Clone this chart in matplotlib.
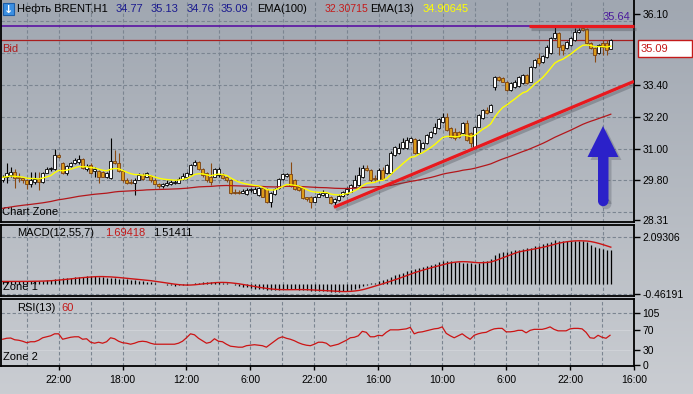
import numpy as np
import pandas as pd
import matplotlib
matplotlib.use('Agg')
import matplotlib.pyplot as plt
from matplotlib.patches import Polygon, Circle, Rectangle
from matplotlib.colors import LinearSegmentedColormap
import matplotlib.patheffects as pe

plt.rcParams['font.family'] = ['Liberation Sans', 'DejaVu Sans']

# ---------------- data (hourly Brent candles) ----------------
opens = [29.82,29.92,30.01,30.13,29.95,29.88,29.82,29.66,29.76,29.85,
         29.76,30.10,30.22,30.22,30.76,30.47,30.07,30.35,30.45,30.51,
         30.60,30.22,30.39,30.17,30.17,30.13,29.92,29.88,30.55,30.45,
         30.16,29.82,29.76,29.72,29.82,30.01,29.95,29.97,29.82,29.66,
         29.60,29.63,29.67,29.72,29.72,29.85,29.92,30.05,30.39,30.51,
         30.22,30.07,29.95,29.95,30.01,30.01,29.92,29.80,29.38,29.38,
         29.34,29.29,29.44,29.34,29.25,29.51,29.47,28.97,29.29,29.51,
         29.85,29.97,30.05,29.80,29.57,29.51,29.17,29.17,29.00,29.19,
         29.25,29.19,29.19,29.00,29.08,29.20,29.30,29.38,29.57,29.63,
         29.94,30.26,30.20,29.90,29.82,30.20,30.07,30.07,30.76,30.83,
         31.01,31.01,31.27,31.36,30.83,31.01,31.20,31.45,31.58,31.77,
         32.02,32.21,31.77,31.64,31.64,31.58,31.96,31.58,31.08,31.83,
         32.15,32.46,32.40,33.34,33.69,33.66,33.53,33.21,33.34,33.37,
         33.47,33.78,33.53,34.09,34.41,34.28,34.47,34.60,35.17,35.35,
         34.91,34.79,34.91,35.10,35.42,35.54,35.51,34.98,34.79,34.60,
         34.98,34.98,34.77]
closes = [29.92,30.07,30.13,29.88,29.88,29.82,29.66,29.80,29.85,29.76,
          30.10,30.22,30.26,30.76,30.70,30.07,30.35,30.45,30.58,30.60,
          30.26,30.35,30.07,30.22,29.92,29.95,30.07,30.55,30.45,30.16,
          29.80,29.72,29.72,29.82,30.01,29.85,30.07,29.80,29.66,29.61,
          29.67,29.72,29.74,29.74,29.87,29.97,30.07,30.39,30.51,30.22,
          30.01,29.82,29.76,30.22,30.22,29.88,29.80,29.32,29.34,29.34,
          29.42,29.44,29.47,29.47,29.51,29.19,28.97,29.32,29.48,29.85,
          30.05,30.05,29.60,29.47,29.44,29.13,29.09,28.97,29.19,29.29,
          29.34,29.32,28.94,29.10,29.22,29.36,29.48,29.63,29.82,30.01,
          30.26,30.20,29.82,29.85,30.20,29.85,30.38,30.83,31.08,31.01,
          31.27,31.33,31.39,30.83,31.33,31.20,31.52,31.64,31.83,32.11,
          32.21,31.71,31.45,31.39,31.45,31.96,31.33,31.20,31.83,32.27,
          32.46,32.33,32.65,33.72,33.59,33.53,33.21,33.47,33.53,33.72,
          33.78,33.47,34.09,34.35,34.22,34.50,34.85,35.17,35.35,34.85,
          34.72,35.04,35.17,35.42,35.48,35.48,34.98,34.79,34.54,34.91,
          34.85,34.72,35.09]
highs = [30.01,30.47,30.30,30.22,30.07,29.95,29.85,30.13,30.13,30.13,
         30.13,30.32,30.32,30.98,30.80,30.51,30.39,30.51,30.64,30.76,
         30.64,30.42,30.45,30.32,30.20,30.17,30.13,31.39,30.95,30.83,
         30.20,29.88,29.85,29.88,30.07,30.07,30.13,30.01,29.88,29.72,
         29.69,29.80,29.80,29.80,29.95,30.10,30.13,30.42,30.58,30.55,
         30.26,30.13,30.47,30.26,30.30,30.07,29.97,29.85,29.47,29.44,
         29.47,29.51,29.51,29.54,29.54,29.54,29.51,29.38,29.53,29.88,
         30.10,30.10,30.51,29.85,29.63,29.57,29.19,29.22,29.22,29.34,
         29.44,29.34,29.22,29.15,29.28,29.42,29.55,29.68,30.01,30.32,
         30.38,30.40,30.24,30.01,30.26,30.32,30.42,30.90,31.12,31.20,
         31.39,31.45,31.45,31.40,31.37,31.24,31.56,31.68,31.96,32.15,
         32.33,32.33,31.80,31.77,31.68,32.02,32.08,31.62,31.87,32.31,
         32.50,32.59,32.69,33.76,33.75,33.70,33.56,33.50,33.59,33.76,
         33.82,33.82,34.13,34.40,34.60,34.54,34.90,35.22,35.63,35.40,
         34.95,35.08,35.22,35.54,35.55,35.60,35.56,35.02,34.83,34.95,
         35.10,35.10,35.13]
lows = [29.76,29.72,29.95,29.51,29.76,29.72,29.47,29.57,29.67,29.44,
        29.72,30.07,30.17,30.20,30.64,30.05,30.01,30.30,30.42,30.42,
        30.22,30.17,30.03,29.95,29.69,29.92,29.88,29.85,30.42,30.13,
        29.76,29.67,29.67,29.25,29.80,29.82,29.92,29.76,29.63,29.51,
        29.51,29.60,29.62,29.67,29.69,29.80,29.85,30.01,30.35,30.20,
        29.95,29.76,29.63,29.92,29.95,29.85,29.76,29.29,29.29,29.28,
        29.32,29.25,29.38,29.32,29.22,29.17,28.94,28.81,29.25,29.48,
        29.82,29.92,29.57,29.44,29.42,29.09,29.04,28.75,28.97,29.17,
        29.22,29.17,28.91,28.88,29.04,29.17,29.27,29.35,29.55,29.60,
        29.90,30.15,29.76,29.76,29.80,29.82,30.03,30.03,30.72,30.80,
        30.98,30.98,31.24,30.80,30.80,30.98,31.17,31.42,31.55,31.74,
        31.98,31.68,31.42,31.33,31.40,31.55,31.30,31.08,31.01,31.80,
        32.11,32.30,32.37,33.21,33.56,33.50,33.18,33.18,33.30,33.34,
        33.44,33.44,33.50,34.05,34.16,34.25,34.44,34.56,35.12,34.54,
        34.54,34.75,34.88,35.06,35.38,35.45,34.95,34.75,34.28,34.56,
        34.54,34.54,34.76]
macd_values = [0.10,0.10,0.10,0.10,0.10,0.11,0.11,0.12,0.12,0.12,
               0.13,0.15,0.17,0.20,0.23,0.24,0.25,0.27,0.29,0.31,
               0.32,0.33,0.34,0.33,0.31,0.29,0.27,0.26,0.25,0.23,
               0.21,0.20,0.18,0.16,0.14,0.12,0.09,0.06,0.03,0.00,
               -0.03,-0.05,-0.07,-0.09,-0.08,-0.07,-0.05,-0.01,0.03,0.05,
               0.06,0.06,0.06,0.07,0.06,0.04,0.01,-0.03,-0.07,-0.10,
               -0.13,-0.16,-0.19,-0.22,-0.24,-0.26,-0.28,-0.29,-0.28,-0.27,
               -0.26,-0.25,-0.25,-0.26,-0.27,-0.29,-0.30,-0.31,-0.32,-0.33,
               -0.34,-0.35,-0.36,-0.37,-0.37,-0.35,-0.32,-0.28,-0.24,-0.19,
               -0.12,-0.04,0.02,0.05,0.10,0.15,0.22,0.30,0.38,0.43,
               0.50,0.57,0.63,0.67,0.70,0.75,0.80,0.84,0.90,0.96,
               1.00,1.03,1.02,0.99,0.97,0.95,0.92,0.91,0.90,0.95,
               1.00,1.03,1.10,1.30,1.36,1.40,1.42,1.47,1.50,1.53,
               1.55,1.58,1.62,1.67,1.71,1.77,1.82,1.88,1.94,1.92,
               1.92,1.92,1.92,1.93,1.93,1.91,1.87,1.75,1.66,1.60,
               1.56,1.52,1.51]
rsi_values = [52,54,54.5,51,50,48,45,47,47,50,
              55,57,59,63,63,52,54,56,57,57,
              52,53,46,44,46,44,47,55,53,48,
              45,44,42,44,47,48,47,44,42,42,
              42,42,42,42,44,48,55,63,61,54,
              49,44,46,53,48,47,42,38,37,36,
              36,39,40,41,40,39,36,42,48,54,
              57,54,52,49,45,42,40,39,42,46,
              46,44,38,40,42,46,50,55,56,59,
              68,66,57,57,60,59,66,71,71,71,
              72,73,76,63,66,67,69,71,73,74,
              77,64,59,55,59,63,57,52,60,63,
              65,66,70,73,74,74,67,67,68,70,
              70,65,70,72,72,72,74,77,72,69,
              69,69,73,74,74,73,66,55,54,60,
              56,54,60]

ema100_start = 28.75          # EMA(100) value at the first visible candle
resistance_level = 35.64      # purple horizontal level
bid_price = 35.09
trend_start = (82.8, 28.79)   # red trend line anchors (candle index, price)
trend_end = (157.8, 33.54)
resist_line = (131.6, 157.8, 35.63)

price_ticks = [36.10, 33.40, 32.20, 31.00, 29.80, 28.31]
price_grid = [28.6, 29.8, 31.0, 32.2, 33.4, 34.6, 35.8]
macd_ticks = [2.09306, -0.46191]
rsi_ticks = [105, 70, 30, 0]
time_idx = [14, 30, 46, 62, 78, 94, 110, 126, 142, 158]
time_labels = ['22:00', '18:00', '12:00', '6:00', '22:00', '16:00', '10:00', '6:00', '22:00', '16:00']
grid_idx = list(range(6, 158, 8))

# ---------------- indicators ----------------
O = np.array(opens); C = np.array(closes); Hh = np.array(highs); Lw = np.array(lows)
N = len(C)
x = np.arange(N)
cs = pd.Series(C)
ema13 = cs.ewm(span=13, adjust=False).mean().values
ema100 = np.empty(N)
a = 2 / 101
prev = ema100_start
for i in range(N):
    prev = prev + a * (C[i] - prev) if i > 0 else prev
    ema100[i] = prev
macd = pd.Series(macd_values)
signal = macd.rolling(7, min_periods=1).mean()

# ---------------- figure ----------------
W, H = 693, 394
fig = plt.figure(figsize=(W / 100, H / 100), dpi=100)

def rect(x0, y0, x1, y1):
    return [x0 / W, 1 - y1 / H, (x1 - x0) / W, (y1 - y0) / H]

bg = fig.add_axes([0, 0, 1, 1], zorder=-10)
cmap = LinearSegmentedColormap.from_list('bg', ['#a0a7b1', '#cacdd2'])
bg.imshow(np.linspace(0, 1, 256).reshape(-1, 1), aspect='auto', cmap=cmap,
          extent=[0, 1, 0, 1], origin='upper')
bg.axis('off')

FS = 7.5
XL = (-0.425, 157.8)
grid_kw = dict(color='#7b8591', lw=0.8, ls=(0, (3, 2)), zorder=1)

def style_axes(a_):
    a_.set_facecolor('none')
    a_.set_xlim(*XL)
    a_.yaxis.tick_right()
    a_.tick_params(axis='y', direction='out', length=4, width=1, labelsize=FS, pad=2, colors='black')
    a_.tick_params(axis='x', bottom=False, labelbottom=False)
    for s in a_.spines.values():
        s.set_color('black'); s.set_linewidth(1.3)
    for g in grid_idx:
        a_.axvline(g, **grid_kw)

# main price panel
ax = fig.add_axes(rect(1, 0, 634, 221.7))
style_axes(ax)
ax.spines['top'].set_visible(False)
ax.set_ylim(28.245, 36.61)
for g in price_grid:
    ax.axhline(g, **grid_kw)
ax.set_yticks(price_ticks)
ax.set_yticklabels(['%.2f' % t for t in price_ticks])

ax.axhline(resistance_level, color='#5a12a3', lw=1.2, zorder=2)
ax.axhline(bid_price, color='#a81e1e', lw=0.9, zorder=2)

up = C >= O
bb = np.minimum(O, C)
bh = np.maximum(np.abs(C - O), 0.02)
ax.vlines(x[up], Lw[up], Hh[up], color='black', lw=0.8, zorder=3)
ax.vlines(x[~up], Lw[~up], Hh[~up], color='#8a4a12', lw=0.8, zorder=3)
ax.bar(x[up], bh[up], bottom=bb[up], width=0.75, color='white', edgecolor='black', lw=0.6, zorder=4)
ax.bar(x[~up], bh[~up], bottom=bb[~up], width=0.75, color='#dc9c1a', edgecolor='#7a4010', lw=0.6, zorder=4)
ax.plot(x, ema100, color='#b3171b', lw=0.9, zorder=5)
ax.plot(x, ema13, color='#ffff00', lw=1.0, zorder=5)

shadow = [pe.SimpleLineShadow(offset=(1.5, -2), shadow_color='#4a4f57', alpha=0.35), pe.Normal()]
ax.plot([trend_start[0], trend_end[0]], [trend_start[1], trend_end[1]], color='#e8191e',
        lw=2.3, zorder=6, solid_capstyle='butt', path_effects=shadow)
ax.plot([resist_line[0], resist_line[1]], [resist_line[2], resist_line[2]], color='#e8191e',
        lw=2.3, zorder=6, clip_on=False, solid_capstyle='butt', path_effects=shadow)

# MACD panel
ax2 = fig.add_axes(rect(1, 225, 634, 296))
style_axes(ax2)
ax2.set_ylim(-0.552, 2.632)
for g in macd_ticks:
    ax2.axhline(g, **grid_kw)
ax2.set_yticks(macd_ticks)
ax2.set_yticklabels(['%.5f' % t for t in macd_ticks])
ax2.vlines(x, 0, macd.values, color='black', lw=0.9, zorder=3)
ax2.plot(x, signal.values, color='#cc1414', lw=1.0, zorder=4)

# RSI panel
ax3 = fig.add_axes(rect(1, 299, 634, 365.7))
style_axes(ax3)
ax3.set_ylim(-1.4, 133.3)
ax3.axhline(105, **grid_kw)
for lv in (70, 30):
    ax3.axhline(lv, color='#cfd2d7', lw=0.8, zorder=1)
ax3.set_yticks(rsi_ticks)
ax3.set_yticklabels([str(t) for t in rsi_ticks])
ax3.plot(x, rsi_values, color='#cc1414', lw=0.9, zorder=4)
ax3.set_xticks(time_idx)
ax3.set_xticklabels(time_labels)
ax3.tick_params(axis='x', bottom=True, labelbottom=True, direction='out', length=3,
                width=1, labelsize=FS, pad=3.5, colors='black')

# overlay in pixel coordinates
ov = fig.add_axes([0, 0, 1, 1], zorder=20)
ov.set_xlim(0, W); ov.set_ylim(H, 0); ov.axis('off'); ov.set_facecolor('none')

def t(xp, yp, s, c='black', ha='left', axes=None, z=10, fs=FS):
    (axes or ov).text(xp, yp, s, color=c, fontsize=fs, ha=ha, va='center',
                      transform=ov.transData, zorder=z)

# title
ov.add_patch(Rectangle((3, 3), 11, 12, facecolor='#3b8fe2', edgecolor='#1d5ea8', lw=0.8))
ov.text(8.5, 9.5, '↓', color='white', fontsize=8, ha='center', va='center',
        fontweight='bold', family='DejaVu Sans')
t(17, 9, 'Нефть BRENT,H1', fs=8)
for xp, s in zip([116, 151, 187, 221], ['34.77', '35.13', '34.76', '35.09']):
    t(xp, 9, s, '#1b1b8f', fs=8)
t(257, 9, 'EMA(100)', fs=8)
t(325, 9, '32.30715', '#c41a1a', fs=7.6)
t(370, 9, 'EMA(13)', fs=8)
t(423, 9, '34.90645', '#ffff00', fs=8)
t(2, 49, 'Bid', '#b01c1c', fs=8)
t(630, 16.5, '35.64', '#4b1a9c', ha='right', fs=8)
t(2, 212, 'Chart Zone', axes=ax, z=2, fs=8)

# price box
ov.add_patch(Rectangle((638, 40), 54, 17, facecolor='white', edgecolor='#c41a1a', lw=1.0))
t(641, 48.5, '35.09', '#c41a1a', fs=8)

# MACD / RSI labels
t(17, 233, 'MACD(12,55,7)', fs=8)
t(105, 233, '1.69418', '#c41a1a', fs=8)
t(153, 233, '1.51411', fs=8)
t(3, 287, 'Zone 1', axes=ax2, z=2, fs=8)
t(17, 308, 'RSI(13)', fs=8)
t(61, 308, '60', '#c41a1a', fs=8)
t(3, 357, 'Zone 2', axes=ax3, z=2, fs=8)

# blue arrow
arrow_pts = [(603, 126), (618.5, 157), (608.5, 157), (608.5, 201), (598, 201), (598, 157), (587.5, 157)]
sh = [(px + 3, py + 3) for px, py in arrow_pts]
ov.add_patch(Polygon(sh, closed=True, facecolor='#505560', alpha=0.3, lw=0))
ov.add_patch(Circle((606.2, 204), 5.2, facecolor='#505560', alpha=0.3, lw=0))
ov.add_patch(Polygon(arrow_pts, closed=True, facecolor='#2b21c9', lw=0))
ov.add_patch(Circle((603.2, 201), 5.2, facecolor='#2b21c9', lw=0))

fig.savefig('out.png', dpi=100)
